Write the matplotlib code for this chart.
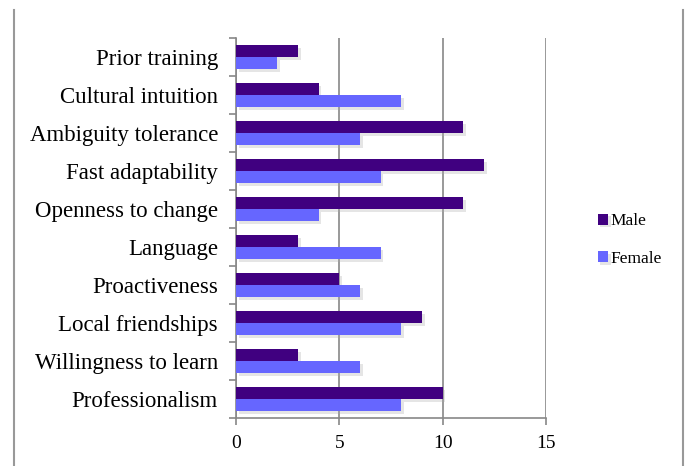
import numpy as np
import matplotlib.pyplot as plt
import matplotlib.patheffects as pe

# categories listed bottom to top
categories = ["Professionalism", "Willingness to learn", "Local friendships",
              "Proactiveness", "Language", "Openness to change",
              "Fast adaptability", "Ambiguity tolerance", "Cultural intuition",
              "Prior training"]
male = [10, 3, 9, 5, 3, 11, 12, 11, 4, 3]
female = [8, 6, 8, 6, 7, 4, 7, 6, 8, 2]
xticks = [0, 5, 10, 15]

plt.rcParams['font.family'] = ['Liberation Serif', 'DejaVu Serif']

fig = plt.figure(figsize=(6.86, 4.66), dpi=100)
ax = fig.add_axes([236/686, 1 - 418/466, 310/686, 380/466])

y = np.arange(len(categories))
h = 0.31
shadow = [pe.SimplePatchShadow(offset=(2, -2), shadow_rgbFace='#aaaaaa', alpha=0.3), pe.Normal()]
bm = ax.barh(y + h/2, male, height=h, color='#400080', label='Male', zorder=3)
bf = ax.barh(y - h/2, female, height=h, color='#6666ff', label='Female', zorder=3)
for b in list(bm) + list(bf):
    b.set_path_effects(shadow)

ax.set_xlim(0, 15)
ax.set_ylim(-0.5, len(categories) - 0.5)
ax.set_xticks(xticks)
ax.set_yticks(y)
ax.set_yticklabels(categories, fontsize=16.5)
ax.set_yticks(np.arange(len(categories) + 1) - 0.5, minor=True)
ax.tick_params(axis='y', which='major', length=0, pad=13)
ax.tick_params(axis='y', which='minor', length=5, color='#888888', width=1.2)
ax.tick_params(axis='x', length=5, color='#888888', width=1.2, labelsize=14, pad=7)
ax.xaxis.grid(True, color='#888888', linewidth=1.2, zorder=0)
for s in ['top', 'right']:
    ax.spines[s].set_visible(False)
for s in ['left', 'bottom']:
    ax.spines[s].set_color('#888888')
    ax.spines[s].set_linewidth(1.2)

leg = fig.legend(handles=[bm, bf], loc='center left', bbox_to_anchor=(582/686, 1 - 240/466),
                 frameon=False, fontsize=12.5, handlelength=0.6, handleheight=0.6,
                 handletextpad=0.15, labelspacing=1.25)

# page border lines on left and right
fig.add_artist(plt.Line2D([14/686, 14/686], [0, 1 - 10/466], transform=fig.transFigure,
                          color='#999999', linewidth=1.5))
fig.add_artist(plt.Line2D([683/686, 683/686], [0, 1 - 10/466], transform=fig.transFigure,
                          color='#999999', linewidth=1.5))

fig.savefig('out.png', dpi=100)
